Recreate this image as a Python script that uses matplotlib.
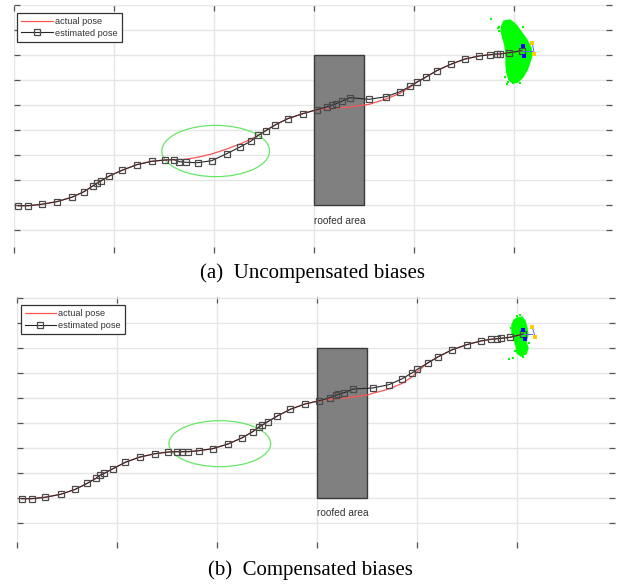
import matplotlib.pyplot as plt
from matplotlib.patches import Rectangle, Ellipse, Polygon

# (a) uncompensated biases
est_x_a = [0.043, 0.143, 0.277, 0.427, 0.577, 0.70, 0.787, 0.827, 0.867, 0.953, 1.08, 1.227,
           1.377, 1.51, 1.603, 1.653, 1.717, 1.837, 1.977, 2.127, 2.26, 2.367, 2.443, 2.517,
           2.61, 2.737, 2.887, 3.027, 3.133, 3.183, 3.22, 3.277, 3.36, 3.553, 3.72, 3.86,
           3.96, 4.027, 4.12, 4.227, 4.367, 4.51, 4.65, 4.76, 4.827, 4.86, 4.95, 5.077]
est_y_a = [-0.007, -0.007, 0.007, 0.033, 0.077, 0.133, 0.19, 0.217, 0.24, 0.29, 0.347, 0.403,
           0.437, 0.45, 0.453, 0.433, 0.427, 0.423, 0.443, 0.513, 0.58, 0.637, 0.697, 0.743,
           0.80, 0.863, 0.913, 0.953, 0.983, 1.0, 1.013, 1.037, 1.073, 1.057, 1.083, 1.133,
           1.187, 1.227, 1.28, 1.343, 1.407, 1.46, 1.49, 1.503, 1.51, 1.51, 1.523, 1.543]
act_x_a = [0.043, 0.143, 0.277, 0.427, 0.577, 0.70, 0.787, 0.827, 0.867, 0.953, 1.08, 1.227,
           1.377, 1.51, 1.603, 1.717, 1.837, 1.977, 2.127, 2.26, 2.367, 2.443, 2.517, 2.61,
           2.737, 2.887, 3.027, 3.133, 3.22, 3.36, 3.553, 3.72, 3.86, 3.96, 4.027, 4.12,
           4.227, 4.367, 4.51, 4.65, 4.76, 4.86, 4.95, 5.077]
act_y_a = [-0.007, -0.007, 0.007, 0.033, 0.077, 0.133, 0.19, 0.217, 0.24, 0.29, 0.347, 0.403,
           0.437, 0.45, 0.453, 0.457, 0.477, 0.51, 0.56, 0.61, 0.657, 0.697, 0.743, 0.80,
           0.863, 0.913, 0.953, 0.963, 0.97, 0.98, 1.007, 1.06, 1.117, 1.177, 1.227, 1.28,
           1.343, 1.407, 1.46, 1.49, 1.503, 1.51, 1.523, 1.543]
cloud_x_a = [4.90, 4.96, 5.00, 5.03, 5.08, 5.13, 5.17, 5.18, 5.16, 5.13, 5.09, 5.04, 4.99,
             4.95, 4.93, 4.92, 4.92, 4.91, 4.89, 4.87, 4.88]
cloud_y_a = [1.84, 1.85, 1.82, 1.79, 1.72, 1.65, 1.57, 1.50, 1.43, 1.35, 1.28, 1.23, 1.22,
             1.25, 1.32, 1.40, 1.50, 1.59, 1.67, 1.74, 1.80]
stray_x_a = [4.77, 4.85, 4.85, 4.93, 5.06, 4.91, 4.843, 4.893, 4.927, 4.943, 4.993, 5.06, 5.093]
stray_y_a = [1.86, 1.78, 1.74, 1.21, 1.22, 1.28, 1.767, 1.667, 1.367, 1.233, 1.217, 1.267, 1.783]
blue_x_a = [5.087, 5.103]
blue_y_a = [1.587, 1.493]
yellow_x_a = [5.183, 5.203]
yellow_y_a = [1.617, 1.515]
ell_a = (2.017, 0.54, 1.077, 0.513)

# (b) compensated biases
est_x_b = [0.047, 0.147, 0.28, 0.437, 0.583, 0.703, 0.79, 0.83, 0.873, 0.96, 1.083, 1.23,
           1.38, 1.513, 1.603, 1.647, 1.707, 1.817, 1.957, 2.11, 2.247, 2.357, 2.42, 2.45,
           2.507, 2.603, 2.733, 2.88, 3.023, 3.13, 3.19, 3.213, 3.273, 3.363, 3.557, 3.72,
           3.853, 3.953, 4.003, 4.107, 4.213, 4.353, 4.497, 4.637, 4.74, 4.803, 4.84, 4.93, 5.063]
est_y_b = [-0.007, -0.007, 0.007, 0.037, 0.087, 0.147, 0.197, 0.227, 0.247, 0.293, 0.357, 0.41,
           0.443, 0.46, 0.463, 0.463, 0.463, 0.473, 0.493, 0.54, 0.60, 0.663, 0.71, 0.727,
           0.763, 0.82, 0.887, 0.94, 0.973, 1.003, 1.027, 1.037, 1.053, 1.09, 1.10, 1.133,
           1.193, 1.253, 1.287, 1.35, 1.413, 1.483, 1.533, 1.57, 1.587, 1.593, 1.597, 1.607, 1.64]
act_x_b = [0.047, 0.147, 0.28, 0.437, 0.583, 0.703, 0.79, 0.83, 0.873, 0.96, 1.083, 1.23,
           1.38, 1.513, 1.603, 1.707, 1.817, 1.957, 2.11, 2.247, 2.357, 2.42, 2.507, 2.603,
           2.733, 2.88, 3.023, 3.13, 3.19, 3.273, 3.363, 3.507, 3.557, 3.72, 3.853, 3.953,
           4.003, 4.107, 4.213, 4.353, 4.497, 4.637, 4.74, 4.84, 4.93, 5.063]
act_y_b = [-0.007, -0.007, 0.007, 0.037, 0.087, 0.147, 0.197, 0.227, 0.247, 0.293, 0.357, 0.41,
           0.443, 0.46, 0.463, 0.463, 0.473, 0.493, 0.54, 0.60, 0.663, 0.71, 0.763, 0.82,
           0.887, 0.94, 0.973, 0.987, 0.993, 1.0, 1.01, 1.03, 1.047, 1.09, 1.147, 1.213,
           1.263, 1.35, 1.413, 1.483, 1.533, 1.57, 1.587, 1.597, 1.607, 1.64]
cloud_x_b = [5.00, 5.05, 5.08, 5.10, 5.11, 5.09, 5.11, 5.09, 5.04, 5.00, 4.99, 4.97, 4.95,
             4.95, 4.97]
cloud_y_b = [1.80, 1.81, 1.77, 1.70, 1.63, 1.56, 1.50, 1.44, 1.42, 1.45, 1.53, 1.58, 1.65,
             1.73, 1.78]
stray_x_b = [4.92, 4.96, 5.00, 5.03, 4.94, 5.12, 5.06, 4.98]
stray_y_b = [1.39, 1.40, 1.82, 1.83, 1.70, 1.55, 1.41, 1.47]
blue_x_b = [5.057, 5.083]
blue_y_b = [1.68, 1.587]
yellow_x_b = [5.153, 5.183]
yellow_y_b = [1.707, 1.607]
ell_b = (2.028, 0.543, 1.017, 0.46)

roof = (3.0, 0.0, 0.5, 1.5)
x_ticks = [0, 1, 2, 3, 4, 5]
y_ticks = [-0.25, 0, 0.25, 0.5, 0.75, 1.0, 1.25, 1.5, 1.75, 2.0]


def draw_panel(ax, est_x, est_y, act_x, act_y, cloud_x, cloud_y, stray_x, stray_y,
               blue_x, blue_y, yellow_x, yellow_y, ell, ylim, leg_anchor):
    ax.add_patch(Rectangle(roof[:2], roof[2], roof[3], facecolor='#808080',
                           edgecolor='#3a3a3a', lw=1.0, zorder=2))
    ax.text(roof[0], -0.155, 'roofed area', fontsize=7.3, color='#333333',
            family='Liberation Sans', va='center', ha='left')
    ax.add_patch(Ellipse(ell[:2], ell[2], ell[3], fill=False, edgecolor='#66e866',
                         lw=0.9, zorder=3))
    ax.add_patch(Polygon(list(zip(cloud_x, cloud_y)), closed=True, facecolor='#00ff00',
                         edgecolor='#00ff00', lw=1.0, zorder=3))
    ax.scatter(stray_x, stray_y, s=3, marker='s', color='#00ff00', zorder=3, linewidths=0)
    ax.plot(act_x, act_y, color='#ff5555', lw=0.9, label='actual pose', zorder=4)
    ax.plot(est_x, est_y, color='#262626', lw=0.8, marker='s', markersize=4.2,
            markerfacecolor='none', markeredgecolor='#4a4a4a', markeredgewidth=0.9,
            label='estimated pose', zorder=5)
    # vehicle frame at the final pose
    ax.plot([est_x[-1], yellow_x[0]], [est_y[-1], est_y[-1]], color='#6060ff', lw=0.7, zorder=6)
    ax.plot(yellow_x, yellow_y, color='#6060ff', lw=0.7, zorder=6)
    ax.scatter(blue_x, blue_y, s=9, marker='s', color='#0000ff', zorder=7, linewidths=0)
    ax.scatter(yellow_x, yellow_y, s=9, marker='s', color='#ffcc00', zorder=7, linewidths=0)

    ax.set_xlim(0, 5.98)
    ax.set_ylim(*ylim)
    ax.set_xticks(x_ticks)
    ax.set_yticks(y_ticks)
    ax.grid(True, color='#e6e6e6', lw=1.0, zorder=0)
    ax.set_axisbelow(True)
    for s in ax.spines.values():
        s.set_visible(False)
    ax.tick_params(direction='in', length=4, width=0.9, color='#555555', top=True,
                   right=True, labelleft=False, labelbottom=False)
    leg = ax.legend(loc='upper left', bbox_to_anchor=leg_anchor, borderaxespad=0,
                    prop={'family': 'Liberation Sans', 'size': 6.6}, fancybox=False,
                    handlelength=3.4, handletextpad=0.25, labelspacing=0.3,
                    borderpad=0.45, framealpha=1)
    leg.get_frame().set_edgecolor('#333333')
    leg.get_frame().set_linewidth(0.9)
    for t in leg.get_texts():
        t.set_color('#333333')


fig = plt.figure(figsize=(6.19, 5.85), dpi=100)
ax1 = fig.add_axes([14 / 619, 332 / 585, 598 / 619, 248 / 585])
draw_panel(ax1, est_x_a, est_y_a, act_x_a, act_y_a, cloud_x_a, cloud_y_a, stray_x_a,
           stray_y_a, blue_x_a, blue_y_a, yellow_x_a, yellow_y_a, ell_a,
           (-0.48, 2.0), (0.0055, 0.969))
ax2 = fig.add_axes([17 / 619, 37 / 585, 598 / 619, 251 / 585])
draw_panel(ax2, est_x_b, est_y_b, act_x_b, act_y_b, cloud_x_b, cloud_y_b, stray_x_b,
           stray_y_b, blue_x_b, blue_y_b, yellow_x_b, yellow_y_b, ell_b,
           (-0.50, 2.01), (0.0062, 0.968))

fig.text(312 / 619, 1 - 273 / 585, '(a)  Uncompensated biases', ha='center', va='center',
         family='Liberation Serif', fontsize=15)
fig.text(310 / 619, 1 - 570 / 585, '(b)  Compensated biases', ha='center', va='center',
         family='Liberation Serif', fontsize=15)

plt.savefig('out.png', dpi=100)
